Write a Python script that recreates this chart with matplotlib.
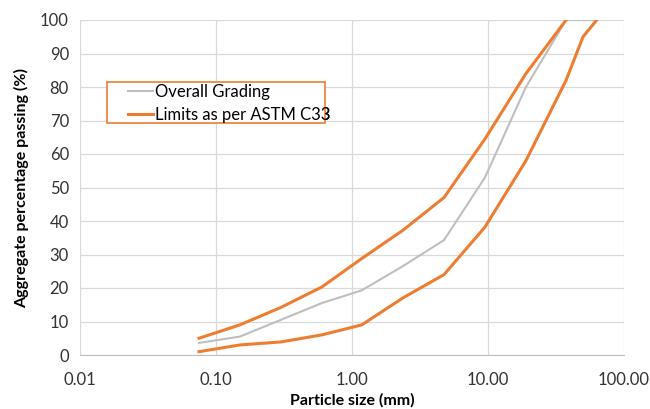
import matplotlib.pyplot as plt
from matplotlib.patches import Rectangle
from matplotlib.ticker import FixedLocator, FixedFormatter

# sieve sizes (mm)
sieve = [0.075, 0.15, 0.3, 0.6, 1.18, 2.36, 4.75, 9.5, 19, 37.5, 50, 63]
overall = [3.6, 5.5, 10.5, 15.5, 19.3, 26.5, 34.3, 53, 80, 100, 100, 100]

upper_sieve = [0.075, 0.15, 0.3, 0.6, 1.18, 2.36, 4.75, 9.5, 19, 37.5]
upper = [5, 9, 14.2, 20.3, 28.8, 37.2, 47, 64.5, 84, 100]

lower_sieve = [0.075, 0.15, 0.3, 0.6, 1.18, 2.36, 4.75, 9.5, 19, 37.5, 50, 63]
lower = [1, 3, 3.9, 6, 9, 17, 24, 38.2, 58, 82, 95, 100]

xticks = [0.01, 0.1, 1, 10, 100]
xlabels = ['0.01', '0.10', '1.00', '10.00', '100.00']
yticks = list(range(0, 101, 10))

plt.rcParams['font.family'] = ['Lato', 'DejaVu Sans']

fig = plt.figure(figsize=(6.5, 4.09), dpi=100)
ax = fig.add_axes([80/650, 54/409, 544/650, 335/409])

orange = '#ED7D31'
ax.plot(sieve, overall, color='#BFBFBF', lw=1.5, label='Overall Grading', zorder=3)
ax.plot(upper_sieve, upper, color=orange, lw=2.2, label='Limits as per ASTM C33', zorder=4)
ax.plot(lower_sieve, lower, color=orange, lw=2.2, zorder=4)

ax.set_xscale('log')
ax.set_xlim(0.01, 100)
ax.set_ylim(0, 100)
ax.xaxis.set_major_locator(FixedLocator(xticks))
ax.xaxis.set_major_formatter(FixedFormatter(xlabels))
ax.xaxis.set_minor_locator(FixedLocator([]))
ax.set_yticks(yticks)

ax.grid(True, color='#D9D9D9', lw=0.9)
ax.set_axisbelow(True)
for s in ['top', 'right', 'left']:
    ax.spines[s].set_visible(False)
ax.spines['bottom'].set_color('#BFBFBF')
ax.tick_params(length=0, labelsize=12, colors='#333333', pad=8)
ax.tick_params(axis='x', pad=12)

ax.set_xlabel('Particle size (mm)', fontsize=11.5, fontweight='bold', labelpad=4)
ax.set_ylabel('Aggregate percentage passing (%)', fontsize=11.5, fontweight='bold', labelpad=8)

# legend without frame, plus a separate orange box like the original
leg = ax.legend(loc='upper left', bbox_to_anchor=(48/544, 1 - 64/335), fontsize=12,
                frameon=False, handlelength=1.5, handletextpad=0.1,
                borderpad=0, labelspacing=0.4, borderaxespad=0)
box = Rectangle((107/650, (409 - 123)/409), 218/650, 41/409, transform=fig.transFigure,
                fill=True, facecolor='white', edgecolor=orange, lw=1.2, zorder=5)
fig.add_artist(box)
leg.set_zorder(6)
fig.add_artist(leg)

fig.savefig('out.png', dpi=100)
